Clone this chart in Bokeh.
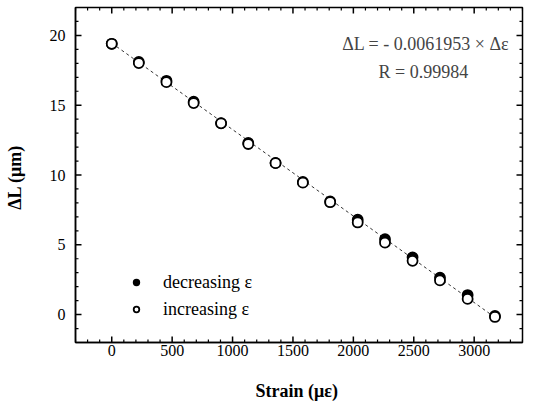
import math
from bokeh.plotting import figure
from bokeh.models import Range1d, Legend, LegendItem, Label, SingleIntervalTicker, ColumnDataSource
from bokeh.embed import file_html
from bokeh.resources import INLINE

strain = [0, 224, 453, 678, 905, 1130, 1356, 1582, 1808, 2036, 2262, 2490, 2717, 2946, 3172]
dl_increasing = [19.4, 18.02, 16.65, 15.15, 13.7, 12.22, 10.85, 9.45, 8.05, 6.6, 5.15, 3.85, 2.45, 1.12, -0.17]
dl_decreasing = [19.4, 18.1, 16.75, 15.25, 13.72, 12.3, 10.87, 9.5, 8.1, 6.8, 5.4, 4.1, 2.65, 1.4, -0.1]
fit_slope = -0.0061953
fit_intercept = 19.45
fit_r = 0.99984

x_min, x_max = -300, 3400
y_min, y_max = -2, 22
x_major = list(range(0, 3001, 500))
x_minor = [v for v in range(-300, 3401, 100) if v % 500 != 0]
y_major = list(range(0, 21, 5))
y_minor = [v for v in range(-2, 23) if v % 5 != 0]

FONT = "Liberation Serif"

p = figure(width=525, height=403, output_backend="svg", toolbar_location=None,
           x_range=Range1d(x_min, x_max), y_range=Range1d(y_min, y_max),
           min_border_left=75, min_border_right=3, min_border_top=7, min_border_bottom=60)
p.grid.visible = False
p.outline_line_color = "black"
p.outline_line_width = 1.5
p.background_fill_color = "white"
p.border_fill_color = "white"

# inward ticks on all four sides
def ticks(xs, ys, angle, length, width):
    p.ray(x=xs, y=ys, length=length, angle=angle, length_units="screen",
          line_color="black", line_width=width)

for vals, L, w in ((x_major, 6, 1.5), (x_minor, 3, 1.2)):
    ticks(vals, [y_min] * len(vals), math.pi / 2, L, w)
    ticks(vals, [y_max] * len(vals), -math.pi / 2, L, w)
for vals, L, w in ((y_major, 6, 1.5), (y_minor, 3, 1.2)):
    ticks([x_min] * len(vals), vals, 0, L, w)
    ticks([x_max] * len(vals), vals, math.pi, L, w)

fx = [strain[0], strain[-1]]
fy = [fit_intercept + fit_slope * v for v in fx]
p.line(fx, fy, line_color="#333333", line_width=1, line_dash="3 3")

src = ColumnDataSource(dict(x=strain, yi=dl_increasing, yd=dl_decreasing))
r_dec = p.scatter("x", "yd", source=src, marker="circle", size=10, fill_color="black",
                  line_color="black", line_width=1.8)
r_inc = p.scatter("x", "yi", source=src, marker="circle", size=10, fill_color="white",
                  line_color="black", line_width=1.8)

p.xaxis.ticker = SingleIntervalTicker(interval=500, num_minor_ticks=5)
p.yaxis.ticker = SingleIntervalTicker(interval=5, num_minor_ticks=5)
for ax in (p.xaxis[0], p.yaxis[0]):
    ax.major_tick_in = 0
    ax.major_tick_out = 0
    ax.minor_tick_in = 0
    ax.minor_tick_out = 0
    ax.axis_line_color = "black"
    ax.axis_line_width = 1.5
    ax.major_label_text_font = FONT
    ax.major_label_text_font_size = "16px"
    ax.major_label_text_color = "black"
    ax.axis_label_text_font = FONT
    ax.axis_label_text_font_style = "bold"
    ax.axis_label_text_font_size = "18px"
    ax.axis_label_text_color = "black"
p.xaxis.major_label_standoff = 2
p.yaxis.major_label_standoff = 10
p.xaxis.axis_label = "Strain  (\u03bc\u03b5)"
p.yaxis.axis_label = "\u0394L  (\u03bcm)"
p.xaxis.axis_label_standoff = 22
p.yaxis.axis_label_standoff = 22

p.add_layout(Label(x=3290, y=19.35, text="\u0394L = - %.7f \u00d7 \u0394\u03b5" % abs(fit_slope),
                   text_font=FONT, text_font_size="18px", text_align="right", text_baseline="middle"))
p.add_layout(Label(x=2580, y=17.4, text="R = %.5f" % fit_r,
                   text_font=FONT, text_font_size="18px", text_align="center", text_baseline="middle"))

legend = Legend(items=[LegendItem(label="decreasing \u03b5", renderers=[r_dec]),
                       LegendItem(label="increasing \u03b5", renderers=[r_inc])],
                location=(54, 22), border_line_color=None, background_fill_alpha=0,
                label_text_font=FONT, label_text_font_size="18px", label_text_color="black",
                label_standoff=20, spacing=5, glyph_width=14, glyph_height=22, label_height=22,
                padding=0, margin=0)
p.add_layout(legend)

open("out.html", "w").write(file_html(p, INLINE))
